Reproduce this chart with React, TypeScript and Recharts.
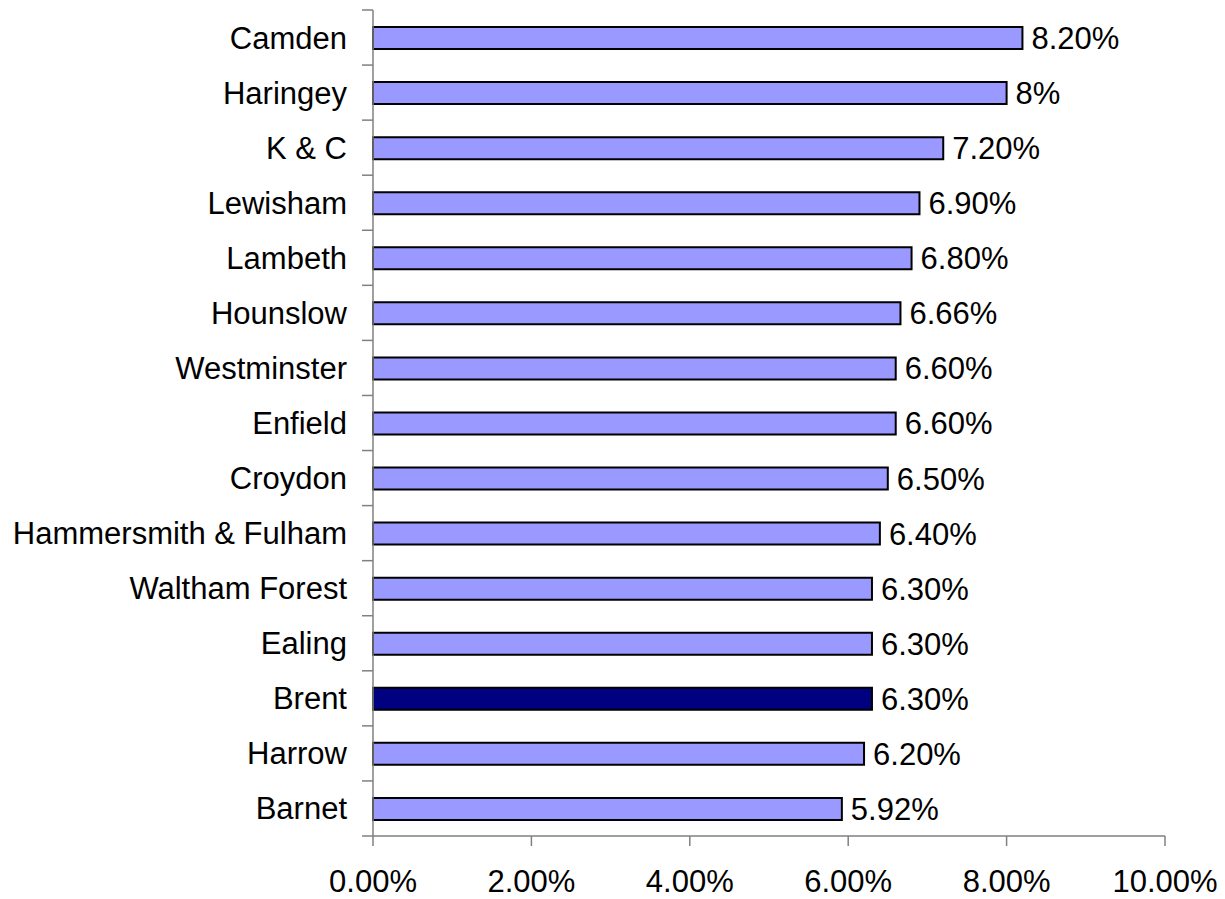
import React from "react";
import {
  BarChart,
  Bar,
  XAxis,
  YAxis,
  Cell,
  LabelList,
} from "recharts";

// boroughs, top to bottom
const boroughs = [
  "Camden",
  "Haringey",
  "K & C",
  "Lewisham",
  "Lambeth",
  "Hounslow",
  "Westminster",
  "Enfield",
  "Croydon",
  "Hammersmith & Fulham",
  "Waltham Forest",
  "Ealing",
  "Brent",
  "Harrow",
  "Barnet",
];

// rate in percent
const rates = [8.2, 8, 7.2, 6.9, 6.8, 6.66, 6.6, 6.6, 6.5, 6.4, 6.3, 6.3, 6.3, 6.2, 5.92];

const valueLabels = [
  "8.20%", "8%", "7.20%", "6.90%", "6.80%", "6.66%", "6.60%", "6.60%",
  "6.50%", "6.40%", "6.30%", "6.30%", "6.30%", "6.20%", "5.92%",
];

const xTicks = [0, 2, 4, 6, 8, 10];

const highlight = "Brent";

const FONT = "'Liberation Sans', Arial, sans-serif";
const AXIS = "#808080";

const W = 1225;
const H = 899;
const MARGIN = { top: 10, right: 60, bottom: 3, left: 0 };
const X_AXIS_H = 60;
const LABEL_GAP = 26;
const TICK_LEN = 11;

// category label + a tick mark on the boundary above each row (and below the last one)
function BoroughTick(props: any) {
  const { x, y, payload, index, visibleTicksCount } = props;
  const plotH = Number(props.height) || H - MARGIN.top - MARGIN.bottom - X_AXIS_H;
  const half = plotH / visibleTicksCount / 2;
  const axisX = x + LABEL_GAP;
  return (
    <g>
      <line
        x1={axisX - TICK_LEN}
        x2={axisX}
        y1={y - half}
        y2={y - half}
        stroke={AXIS}
        strokeWidth={1.5}
      />
      {index === visibleTicksCount - 1 && (
        <line
          x1={axisX - TICK_LEN}
          x2={axisX}
          y1={y + half}
          y2={y + half}
          stroke={AXIS}
          strokeWidth={1.5}
        />
      )}
      <text
        x={x}
        y={y}
        dy="0.355em"
        textAnchor="end"
        fill="#000"
        fontSize={31}
        fontFamily={FONT}
      >
        {payload.value}
      </text>
    </g>
  );
}

export default function App() {
  const data = boroughs.map((name, i) => ({
    name,
    rate: rates[i],
    label: valueLabels[i],
  }));

  return (
    <div style={{ position: "absolute", left: 0, top: 0, background: "#fff" }}>
      <BarChart
        width={W}
        height={H}
        data={data}
        layout="vertical"
        margin={MARGIN}
        style={{ fontFamily: FONT }}
      >
        <YAxis
          type="category"
          dataKey="name"
          width={373}
          axisLine={{ stroke: AXIS, strokeWidth: 1.5 }}
          tickLine={false}
          tickSize={0}
          tickMargin={LABEL_GAP}
          interval={0}
          tick={<BoroughTick />}
        />
        <XAxis
          type="number"
          domain={[0, 10]}
          ticks={xTicks}
          interval={0}
          height={X_AXIS_H}
          tickSize={10}
          tickMargin={24}
          tickFormatter={(v: number) => v.toFixed(2) + "%"}
          axisLine={{ stroke: AXIS, strokeWidth: 1.5 }}
          tickLine={{ stroke: AXIS, strokeWidth: 1.5 }}
          tick={{ fill: "#000", fontSize: 31, fontFamily: FONT }}
        />
        <Bar
          dataKey="rate"
          barSize={22}
          stroke="#000"
          strokeWidth={2}
          isAnimationActive={false}
        >
          {data.map((d) => (
            <Cell key={d.name} fill={d.name === highlight ? "#000080" : "#9999FF"} />
          ))}
          <LabelList
            dataKey="label"
            position="right"
            offset={9}
            style={{ fill: "#000", fontSize: 31, fontFamily: FONT }}
          />
        </Bar>
      </BarChart>
    </div>
  );
}
